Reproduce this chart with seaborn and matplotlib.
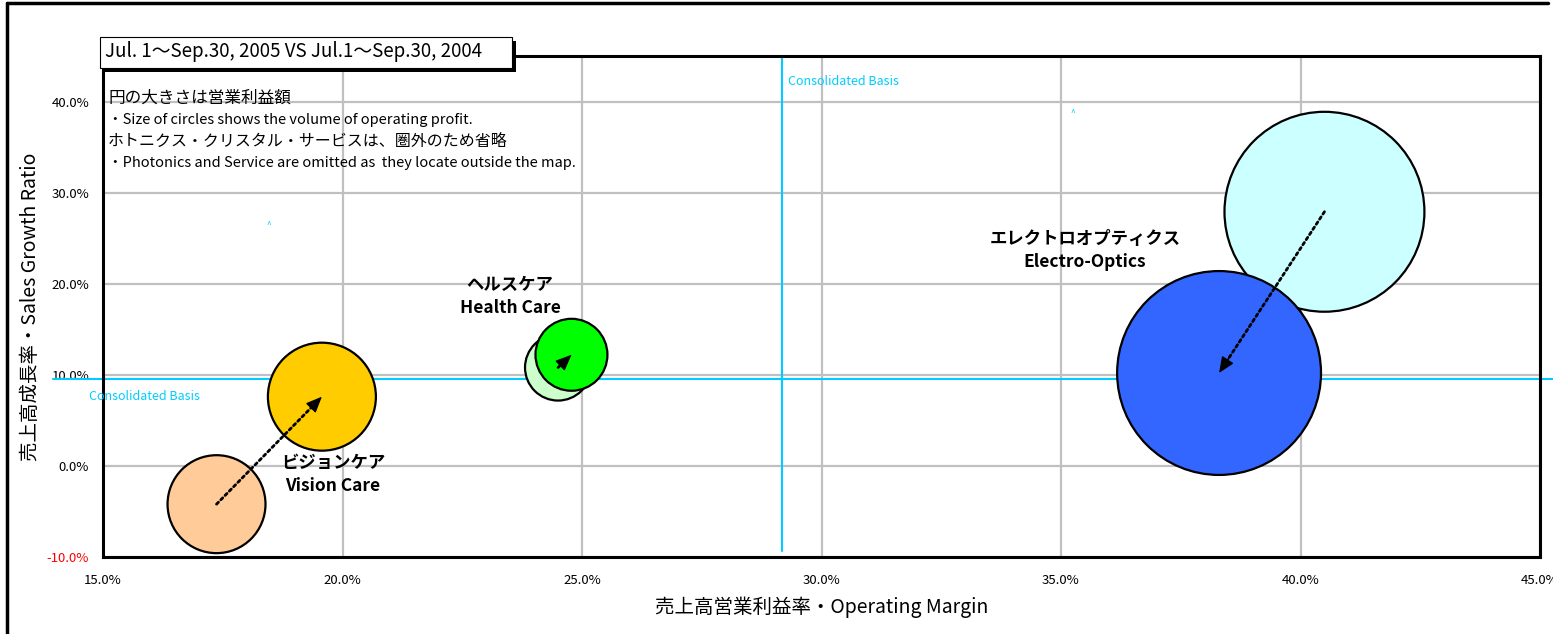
import numpy as np
import pandas as pd
import matplotlib
matplotlib.use("Agg")
import matplotlib.pyplot as plt
from matplotlib.patches import Rectangle
from matplotlib.lines import Line2D
import seaborn as sns

# --- data ---
segments = ["Vision Care", "Health Care", "Electro-Optics"]
labels_jp = ["ビジョンケア", "ヘルスケア", "エレクトロオプティクス"]
margin_2004 = [17.37, 24.50, 40.50]   # operating margin, %
growth_2004 = [-4.2, 10.8, 27.9]      # sales growth, %
margin_2005 = [19.57, 24.78, 38.30]
growth_2005 = [7.6, 12.2, 10.2]
profit_2004 = [34.3, 15.6, 142.9]     # operating profit (relative)
profit_2005 = [41.7, 18.5, 148.6]
colors_2004 = ["#FFCC99", "#CCFFCC", "#CCFFFF"]
colors_2005 = ["#FFCC00", "#00FF00", "#3366FF"]
label_pos = [(19.8, -0.9), (23.5, 18.6), (35.5, 23.6)]  # label centre (x, y)

basis_margin = 29.17
basis_growth = 9.55
x_ticks = [15, 20, 25, 30, 35, 40, 45]
y_ticks = [-10, 0, 10, 20, 30, 40]

title_txt = "Jul. 1\u301cSep.30, 2005 VS Jul.1\u301cSep.30, 2004"
note_lines = ["円の大きさは営業利益額",
              "・Size of circles shows the volume of operating profit.",
              "ホトニクス・クリスタル・サービスは、圏外のため省略",
              "・Photonics and Service are omitted as  they locate outside the map."]
note_y = [98, 120, 141, 163]
note_fs = [12, 10.5, 11.5, 10.5]

CYAN = "#00CCFF"
SIZE_PER_UNIT = 145.0  # marker area (pt^2) per profit unit

sns.set_style("white")
plt.rcParams["font.family"] = ["Noto Sans CJK JP", "DejaVu Sans"]
plt.rcParams.update({"text.color": "black", "axes.labelcolor": "black",
                     "xtick.color": "black", "ytick.color": "black"})

W, H = 1553, 634
fig = plt.figure(figsize=(W / 100, H / 100), dpi=100)
ax = fig.add_axes([103 / W, 1 - 557 / H, (1540 - 103) / W, (557 - 56) / H])


def px(x, y):
    return x / W, 1 - y / H


rows = []
for i, s in enumerate(segments):
    rows.append(dict(key=s + " 2004", margin=margin_2004[i], growth=growth_2004[i], profit=profit_2004[i]))
for i, s in enumerate(segments):
    rows.append(dict(key=s + " 2005", margin=margin_2005[i], growth=growth_2005[i], profit=profit_2005[i]))
df = pd.DataFrame(rows)
pal = {s + " 2004": c for s, c in zip(segments, colors_2004)}
pal.update({s + " 2005": c for s, c in zip(segments, colors_2005)})

pmax = df["profit"].max()
sns.scatterplot(data=df, x="margin", y="growth", hue="key", palette=pal,
                size="profit", sizes=(0, pmax * SIZE_PER_UNIT), size_norm=(0, pmax),
                edgecolor="black", linewidth=1.6, alpha=1, legend=False, ax=ax, zorder=3)

# arrows old -> new (dotted shaft + small head)
for i in range(len(segments)):
    x0, y0 = margin_2004[i], growth_2004[i]
    x1, y1 = margin_2005[i], growth_2005[i]
    ax.annotate("", xy=(x1, y1), xytext=(x0, y0),
                arrowprops=dict(arrowstyle="-", linestyle=(0, (1, 1.2)), lw=2,
                                color="black", shrinkA=0, shrinkB=4), zorder=4)
    ax.annotate("", xy=(x1, y1), xytext=(x0 + 0.9 * (x1 - x0), y0 + 0.9 * (y1 - y0)),
                arrowprops=dict(arrowstyle="-|>,head_length=0.7,head_width=0.3", lw=1,
                                color="black", shrinkA=0, shrinkB=0, mutation_scale=14), zorder=4)

for (lx, ly), jp, en in zip(label_pos, labels_jp, segments):
    ax.text(lx, ly, jp + "\n" + en, ha="center", va="center", fontsize=12.5,
            fontweight="bold", linespacing=1.35, color="black", zorder=5)

# consolidated basis lines
ax.plot([13.95, 45.3], [basis_growth, basis_growth], color=CYAN, lw=1.5, clip_on=False, zorder=2)
ax.plot([basis_margin, basis_margin], [-9.35, 45], color=CYAN, lw=1.5, clip_on=False, zorder=2)
ax.text(14.7, 7.6, "Consolidated Basis", color=CYAN, fontsize=9, va="center", clip_on=False)
ax.text(29.3, 42.2, "Consolidated Basis", color=CYAN, fontsize=9, va="center")
ax.text(18.45, 26.4, "^", color=CYAN, fontsize=6, ha="center", va="center")
ax.text(35.25, 38.7, "^", color=CYAN, fontsize=6, ha="center", va="center")

# axes styling
ax.set_xlim(15, 45)
ax.set_ylim(-10, 45)
ax.set_xticks(x_ticks)
ax.set_xticklabels([f"{v:.1f}%" for v in x_ticks], fontsize=9.5)
ax.set_yticks(y_ticks)
ax.set_yticklabels([f"{v:.1f}%" for v in y_ticks], fontsize=9.5)
ax.set_xticks(np.arange(15, 46, 1), minor=True)
ax.set_yticks(np.arange(-10, 46, 5), minor=True)
ax.get_yticklabels()[0].set_color("red")
ax.tick_params(which="both", direction="in", length=4, width=1.5, color="black")
ax.tick_params(axis="x", pad=12)
ax.tick_params(axis="y", pad=10)
ax.grid(True, which="major", color="#C0C0C0", lw=1.6, zorder=0)
ax.set_axisbelow(True)
for sp in ax.spines.values():
    sp.set_visible(True)
    sp.set_color("black")
    sp.set_linewidth(2.2)

ax.set_xlabel("売上高営業利益率・Operating Margin", fontsize=14, labelpad=7)
ax.set_ylabel("売上高成長率・Sales Growth Ratio", fontsize=14, labelpad=4)

# notes
for line, y, fs in zip(note_lines, note_y, note_fs):
    fig.text(*px(108, y), line, fontsize=fs, va="center", ha="left")

# title box with shadow
fig.patches.append(Rectangle(px(104, 72), 412 / W, 31 / H, transform=fig.transFigure,
                             facecolor="black", edgecolor="none", zorder=10))
fig.patches.append(Rectangle(px(100, 68), 412 / W, 31 / H, transform=fig.transFigure,
                             facecolor="white", edgecolor="black", lw=0.8, zorder=11))
fig.text(*px(105, 52), title_txt, fontsize=13.5, va="center", ha="left", zorder=12)

# outer frame (top and left)
fig.lines.append(Line2D([7 / W, 1548 / W], [1 - 3 / H, 1 - 3 / H], transform=fig.transFigure,
                        color="black", lw=2.5))
fig.lines.append(Line2D([7 / W, 7 / W], [0, 1 - 3 / H], transform=fig.transFigure,
                        color="black", lw=2.5))

fig.savefig("out.png", dpi=100)
